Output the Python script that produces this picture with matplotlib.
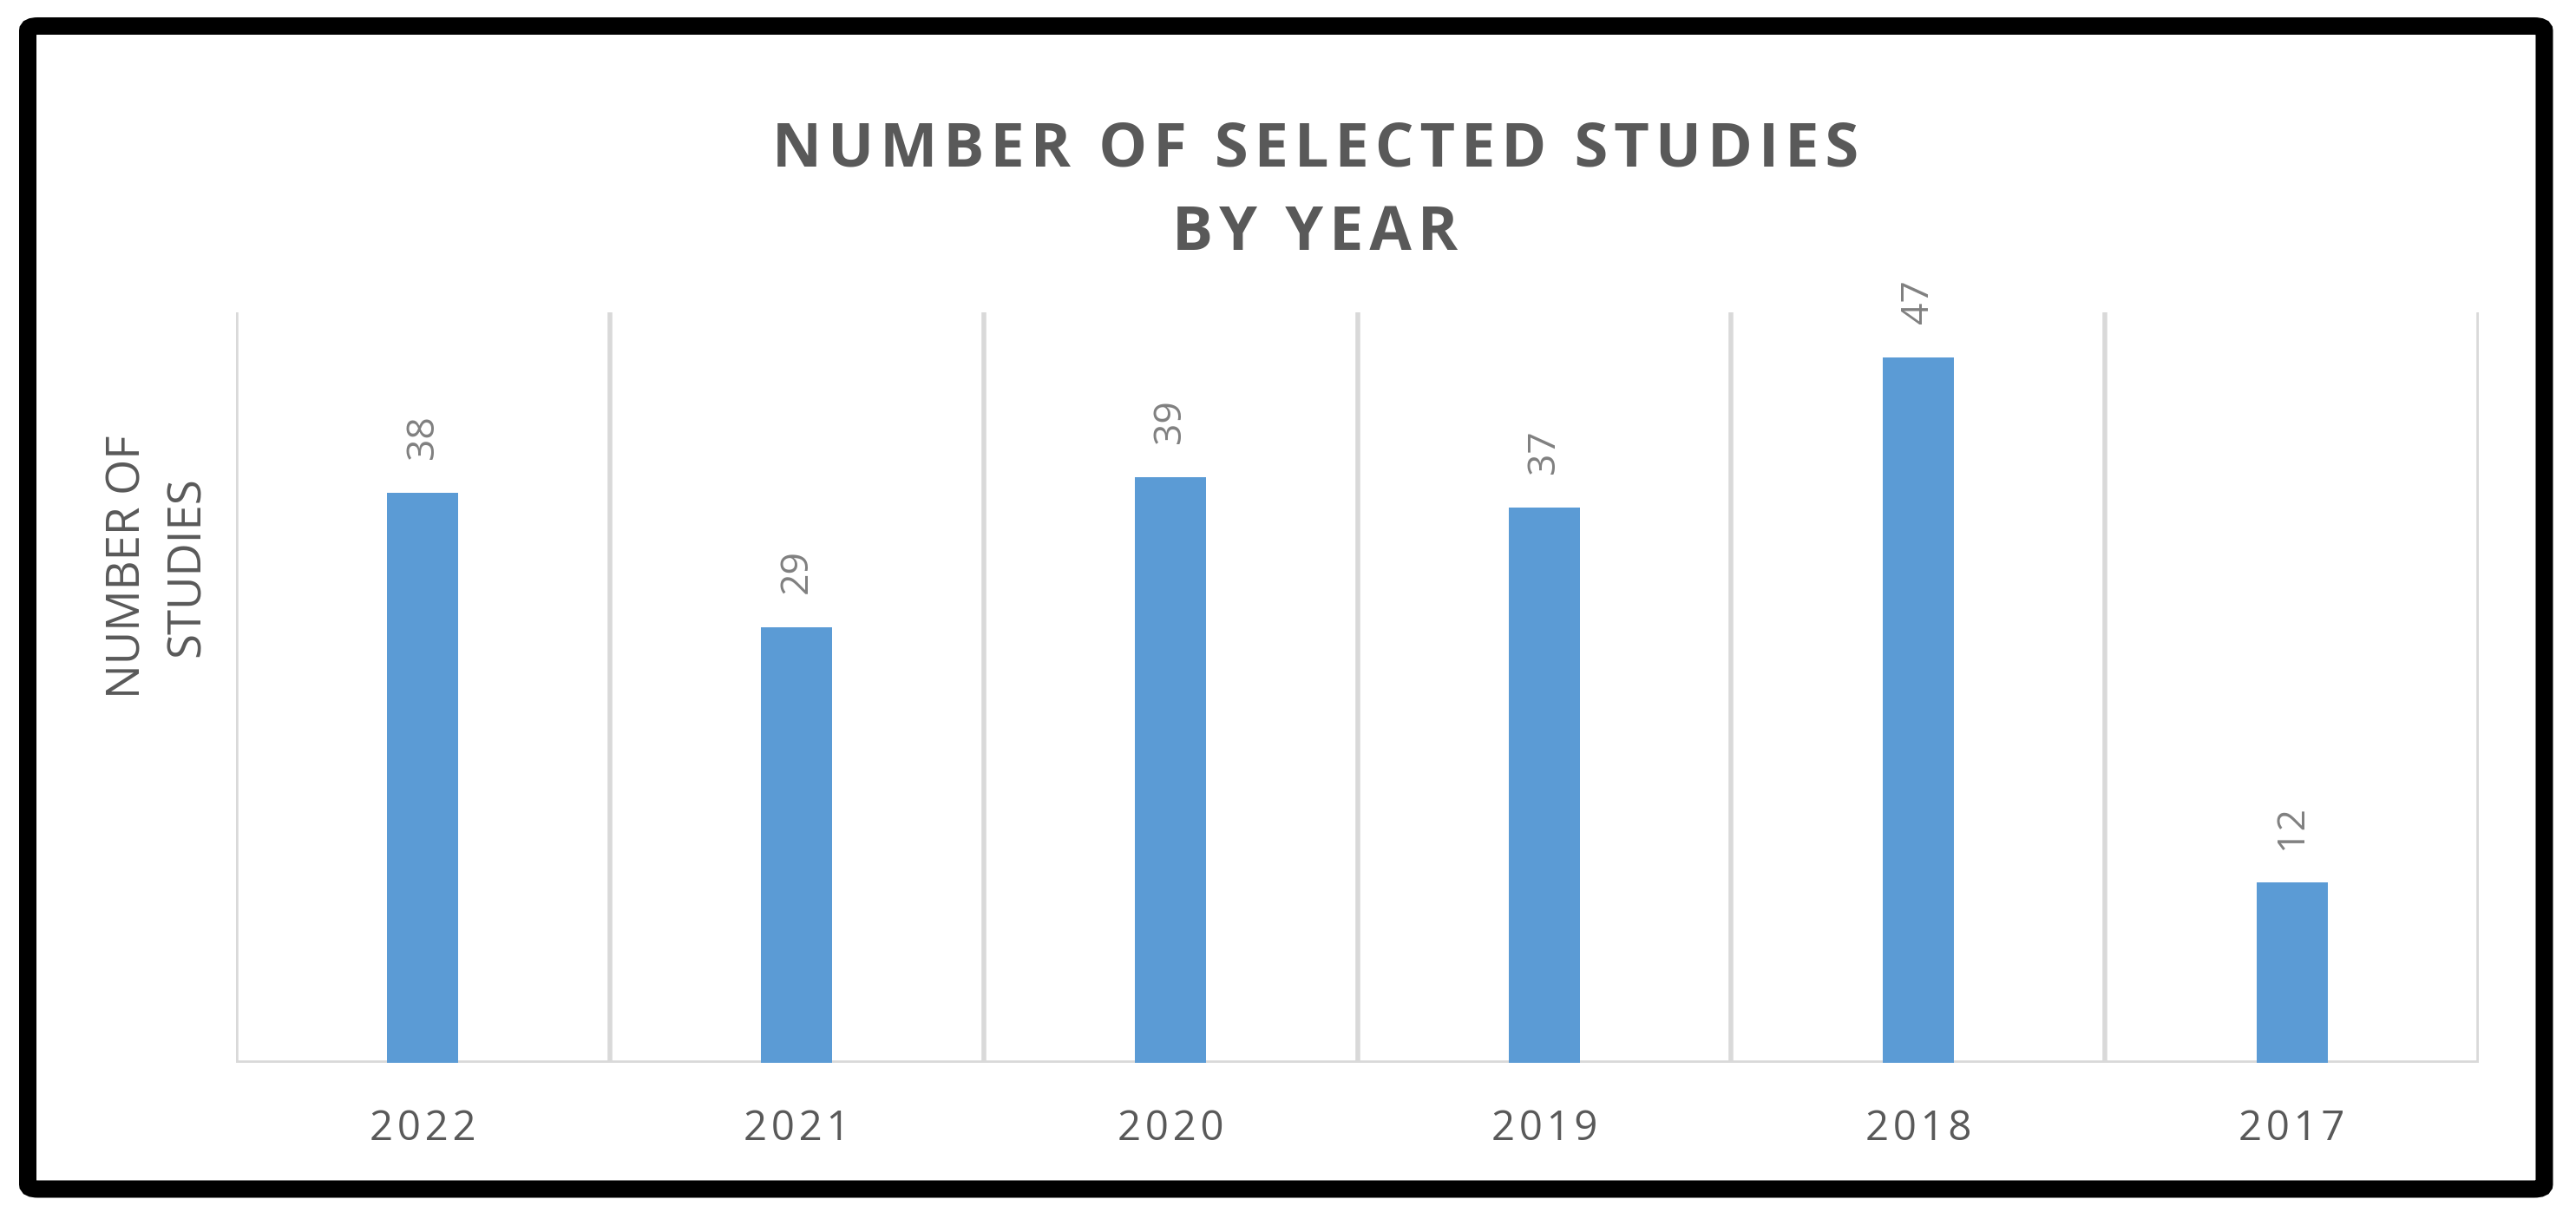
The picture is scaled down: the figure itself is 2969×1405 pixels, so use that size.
import matplotlib
matplotlib.use("Agg")
import matplotlib.pyplot as plt
from matplotlib.patches import FancyBboxPatch

# data
years = ["2022", "2021", "2020", "2019", "2018", "2017"]
studies = [38, 29, 39, 37, 47, 12]

plt.rcParams['font.family'] = ['Open Sans', 'DejaVu Sans']

bar_color = "#5B9BD5"
text_color = "#595959"
grid_color = "#D9D9D9"


def spaced(s):
    # fake letter spacing with hair spaces
    return "\u200a".join(s)


fig = plt.figure(figsize=(14.845, 7.025), dpi=200)
ax = fig.add_axes([0.0916, 0.1281, 0.8707, 0.6157])

x = list(range(len(years)))
ax.bar(x, studies, width=0.19, color=bar_color, zorder=3)

# category separators (Excel style vertical gridlines)
for b in range(len(years) + 1):
    ax.axvline(b - 0.5, color=grid_color, lw=2.0, zorder=1)
ax.axhline(0, color=grid_color, lw=2.0, zorder=2)

for xi, v in zip(x, studies):
    ax.annotate(str(v), (xi, v), xytext=(0, 14), textcoords='offset points',
                rotation=90, ha='center', va='bottom', fontsize=16, color="#808080")

ax.set_xlim(-0.5, len(years) - 0.5)
ax.set_ylim(0, 50)
ax.set_xticks(x)
ax.set_xticklabels([spaced(y) for y in years], fontsize=17, color=text_color)
ax.tick_params(axis='x', length=0, pad=19)
ax.set_yticks([])
for s in ax.spines.values():
    s.set_visible(False)

title = spaced("NUMBER OF SELECTED STUDIES") + "\n" + spaced("BY YEAR")
fig.text(0.5105, 0.842, title, ha='center', va='center',
         fontsize=25.3, fontweight='bold', color=text_color, linespacing=1.5)
fig.text(0.0613, 0.535, "NUMBER OF\nSTUDIES", rotation=90, ha='center', va='center',
         multialignment='center', fontsize=19, color=text_color, linespacing=1.35)

# thick black frame around the whole chart
frame = FancyBboxPatch((0.01078, 0.02456), 0.97692, 0.95409,
                       boxstyle="round,pad=0,rounding_size=0.004",
                       transform=fig.transFigure, fill=False, ec="black", lw=7.2)
fig.patches.append(frame)

fig.savefig("out.png", dpi=200, facecolor="white")
